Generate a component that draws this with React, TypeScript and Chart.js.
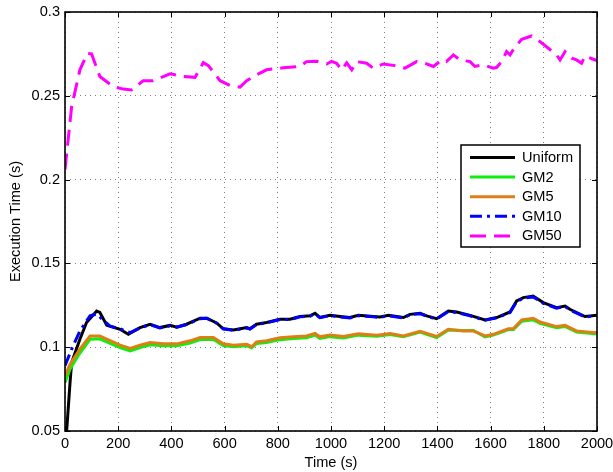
import React, { useEffect, useRef } from "react";
import { Chart, registerables } from "chart.js";

Chart.register(...registerables);

const seriesNames = ["Uniform", "GM2", "GM5", "GM10", "GM50"];

const uniformT = [0, 19, 25, 56, 81, 119, 131, 157, 207, 238, 282, 320, 357, 395, 420, 457, 508, 533, 570, 595, 633, 683, 695, 720, 758, 808, 846, 883, 921, 940, 958, 996, 1034, 1071, 1103, 1159, 1184, 1216, 1272, 1297, 1335, 1360, 1397, 1441, 1472, 1523, 1579, 1623, 1673, 1698, 1723, 1760, 1798, 1848, 1880, 1898, 1955, 2000];
const uniformV = [0.036, 0.079, 0.0909, 0.1048, 0.1147, 0.1216, 0.1208, 0.1131, 0.1107, 0.1077, 0.1117, 0.1137, 0.1117, 0.113, 0.112, 0.1137, 0.1173, 0.1173, 0.1145, 0.111, 0.1103, 0.1117, 0.111, 0.1137, 0.1147, 0.1167, 0.1167, 0.1183, 0.1187, 0.1202, 0.1178, 0.119, 0.1183, 0.1177, 0.119, 0.1183, 0.118, 0.119, 0.1177, 0.1196, 0.1202, 0.1187, 0.117, 0.1216, 0.121, 0.119, 0.1163, 0.1177, 0.121, 0.1276, 0.1296, 0.1305, 0.1266, 0.1236, 0.1246, 0.1226, 0.1183, 0.119];

const gm10T = [0, 25, 56, 94, 119, 145, 170, 207, 245, 282, 320, 357, 395, 420, 457, 508, 533, 570, 595, 633, 683, 695, 720, 758, 808, 846, 883, 921, 940, 958, 996, 1034, 1071, 1103, 1159, 1184, 1216, 1272, 1297, 1335, 1360, 1397, 1441, 1472, 1523, 1579, 1623, 1673, 1698, 1723, 1760, 1798, 1848, 1880, 1898, 1955, 2000];
const gm10V = [0.0889, 0.0988, 0.1097, 0.1187, 0.1198, 0.116, 0.1125, 0.111, 0.1087, 0.1115, 0.1135, 0.1115, 0.1128, 0.112, 0.1135, 0.117, 0.1172, 0.1143, 0.111, 0.11, 0.1115, 0.1108, 0.1135, 0.1145, 0.1165, 0.1165, 0.1181, 0.1185, 0.12, 0.1176, 0.1188, 0.1181, 0.1175, 0.1188, 0.1181, 0.1178, 0.1188, 0.1175, 0.1194, 0.12, 0.1185, 0.1168, 0.1213, 0.1207, 0.1187, 0.1161, 0.1175, 0.1207, 0.1272, 0.1292, 0.13, 0.1262, 0.1233, 0.1243, 0.1222, 0.118, 0.1188];

const gm5T = [0, 19, 56, 94, 131, 157, 207, 245, 282, 320, 370, 420, 470, 508, 558, 595, 633, 683, 702, 720, 758, 808, 858, 908, 940, 958, 996, 1046, 1103, 1172, 1222, 1272, 1335, 1397, 1441, 1497, 1535, 1579, 1610, 1667, 1686, 1717, 1760, 1786, 1848, 1880, 1923, 1992, 2000];
const gm5V = [0.0829, 0.0899, 0.0988, 0.1067, 0.1067, 0.1048, 0.1012, 0.0992, 0.1012, 0.1028, 0.102, 0.102, 0.1038, 0.1058, 0.1058, 0.102, 0.1012, 0.1017, 0.1003, 0.1032, 0.1038, 0.1056, 0.1063, 0.1067, 0.1083, 0.1062, 0.1073, 0.1064, 0.108, 0.1072, 0.1081, 0.1067, 0.1095, 0.1064, 0.1107, 0.1097, 0.1097, 0.1067, 0.1077, 0.111, 0.1112, 0.1163, 0.1173, 0.115, 0.1123, 0.113, 0.1097, 0.1087, 0.1087];

const gm2T = [0, 19, 56, 94, 131, 157, 207, 245, 282, 320, 370, 420, 470, 508, 558, 595, 633, 683, 702, 720, 758, 808, 858, 908, 940, 958, 996, 1046, 1103, 1172, 1222, 1272, 1335, 1397, 1441, 1497, 1535, 1579, 1610, 1667, 1686, 1717, 1760, 1786, 1848, 1880, 1923, 1992, 2000];
const gm2V = [0.079, 0.087, 0.0965, 0.1047, 0.105, 0.1032, 0.0997, 0.0978, 0.0998, 0.1014, 0.1008, 0.1008, 0.1025, 0.1046, 0.1046, 0.101, 0.1003, 0.1008, 0.0996, 0.1022, 0.1028, 0.1045, 0.1052, 0.1056, 0.1072, 0.1052, 0.1063, 0.1055, 0.1072, 0.1066, 0.1076, 0.1062, 0.109, 0.1058, 0.1103, 0.1099, 0.11, 0.1062, 0.1072, 0.1105, 0.1105, 0.1155, 0.1163, 0.1142, 0.1116, 0.1124, 0.109, 0.108, 0.108];

const gm50T = [0, 25, 56, 84, 100, 131, 181, 219, 250, 294, 331, 395, 445, 489, 520, 539, 583, 620, 658, 683, 720, 758, 783, 820, 883, 908, 946, 984, 1002, 1021, 1040, 1059, 1078, 1096, 1134, 1159, 1197, 1241, 1278, 1322, 1353, 1385, 1416, 1434, 1460, 1485, 1523, 1541, 1573, 1610, 1623, 1642, 1660, 1673, 1692, 1717, 1754, 1786, 1817, 1848, 1861, 1880, 1905, 1923, 1942, 1955, 1986, 2000];
const gm50V = [0.206, 0.2436, 0.2655, 0.2754, 0.275, 0.2615, 0.2555, 0.254, 0.2535, 0.259, 0.259, 0.2631, 0.2615, 0.261, 0.2698, 0.268, 0.259, 0.2562, 0.2552, 0.259, 0.2625, 0.2655, 0.266, 0.2667, 0.2675, 0.2704, 0.2706, 0.269, 0.2705, 0.2694, 0.2655, 0.2697, 0.2655, 0.2704, 0.2694, 0.2665, 0.269, 0.268, 0.2665, 0.2704, 0.2694, 0.2675, 0.2714, 0.2704, 0.2744, 0.2714, 0.2704, 0.2675, 0.2685, 0.2665, 0.267, 0.2704, 0.2764, 0.2744, 0.2793, 0.2837, 0.2857, 0.2823, 0.2784, 0.2744, 0.2714, 0.2764, 0.2724, 0.2714, 0.2694, 0.2738, 0.2718, 0.271];

const xTicks = [0, 200, 400, 600, 800, 1000, 1200, 1400, 1600, 1800, 2000];
const yTicks = [0.05, 0.1, 0.15, 0.2, 0.25, 0.3];

const FONT = "'Liberation Sans', Arial, Helvetica, sans-serif";

const pts = (t: number[], v: number[]) => t.map((x, i) => ({ x, y: v[i] }));

const styles = [
  { color: "#000000", dash: [] as number[], order: 5 },
  { color: "#10ee10", dash: [] as number[], order: 4 },
  { color: "#de7f16", dash: [] as number[], order: 3 },
  { color: "#0000ff", dash: [12, 5, 3, 5], order: 2 },
  { color: "#ff00ff", dash: [16, 8], order: 1 },
];

const boxPlugin = {
  id: "matlabBox",
  afterDatasetsDraw(chart: any) {
    const { ctx, chartArea: a, scales } = chart;
    ctx.save();
    ctx.strokeStyle = "#000";
    ctx.lineWidth = 1;
    const tl = 5;
    ctx.beginPath();
    xTicks.forEach((v) => {
      const x = Math.round(scales.x.getPixelForValue(v)) + 0.5;
      ctx.moveTo(x, a.bottom);
      ctx.lineTo(x, a.bottom - tl);
      ctx.moveTo(x, a.top);
      ctx.lineTo(x, a.top + tl);
    });
    yTicks.forEach((v) => {
      const y = Math.round(scales.y.getPixelForValue(v)) + 0.5;
      ctx.moveTo(a.left, y);
      ctx.lineTo(a.left + tl, y);
      ctx.moveTo(a.right, y);
      ctx.lineTo(a.right - tl, y);
    });
    ctx.stroke();
    ctx.lineWidth = 1.6;
    ctx.strokeRect(a.left, a.top, a.right - a.left, a.bottom - a.top);

    // legend
    const w = 119;
    const h = 102;
    const lx = a.right - 136;
    const ly = a.top + 133;
    ctx.fillStyle = "#fff";
    ctx.fillRect(lx, ly, w, h);
    ctx.lineWidth = 1.5;
    ctx.strokeStyle = "#000";
    ctx.strokeRect(lx, ly, w, h);
    ctx.font = `14.6px ${FONT}`;
    ctx.textBaseline = "middle";
    ctx.textAlign = "left";
    seriesNames.forEach((name, i) => {
      const cy = ly + 12.5 + i * 19.6;
      ctx.beginPath();
      ctx.setLineDash(styles[i].dash);
      ctx.strokeStyle = styles[i].color;
      ctx.lineWidth = 3;
      ctx.moveTo(lx + 9, cy);
      ctx.lineTo(lx + 54, cy);
      ctx.stroke();
      ctx.setLineDash([]);
      ctx.fillStyle = "#000";
      ctx.fillText(name, lx + 61, cy + 0.5);
    });
    ctx.restore();
  },
};

export default function App() {
  const ref = useRef<HTMLCanvasElement>(null);
  useEffect(() => {
    if (!ref.current) return;
    const data = [
      pts(uniformT, uniformV),
      pts(gm2T, gm2V),
      pts(gm5T, gm5V),
      pts(gm10T, gm10V),
      pts(gm50T, gm50V),
    ];
    const chart = new Chart(ref.current, {
      type: "line",
      data: {
        datasets: seriesNames.map((name, i) => ({
          label: name,
          data: data[i],
          borderColor: styles[i].color,
          backgroundColor: styles[i].color,
          borderWidth: 3,
          borderDash: styles[i].dash,
          pointRadius: 0,
          tension: 0,
          fill: false,
          order: styles[i].order,
          clip: 0,
        })),
      },
      options: {
        animation: false,
        responsive: false,
        layout: { padding: { top: 12, right: 16, left: 0, bottom: 0 } },
        plugins: { legend: { display: false }, tooltip: { enabled: false } },
        scales: {
          x: {
            type: "linear",
            min: 0,
            max: 2000,
            afterBuildTicks: (s: any) => {
              s.ticks = xTicks.map((v) => ({ value: v }));
            },
            afterFit: (s: any) => {
              s.height = 41;
              s.paddingLeft = 0;
              s.paddingRight = 0;
            },
            ticks: {
              color: "#000",
              font: { family: FONT, size: 14.6 },
              padding: 4,
              maxRotation: 0,
              autoSkip: false,
              callback: (v: any) => String(v),
            },
            grid: { color: "rgba(0,0,0,0.5)", lineWidth: 1, drawTicks: false },
            border: { display: false, dash: [1, 4] },
            title: {
              display: true,
              text: "Time (s)",
              color: "#000",
              font: { family: FONT, size: 14.6 },
              padding: { top: 0, bottom: 0 },
            },
          },
          y: {
            type: "linear",
            min: 0.05,
            max: 0.3,
            afterBuildTicks: (s: any) => {
              s.ticks = yTicks.map((v) => ({ value: v }));
            },
            afterFit: (s: any) => {
              s.width = 65;
              s.paddingTop = 0;
              s.paddingBottom = 0;
            },
            ticks: {
              color: "#000",
              font: { family: FONT, size: 14.6 },
              padding: 5,
              autoSkip: false,
              callback: (v: any) => String(Math.round(v * 100) / 100),
            },
            grid: { color: "rgba(0,0,0,0.5)", lineWidth: 1, drawTicks: false },
            border: { display: false, dash: [1, 4] },
            title: {
              display: true,
              text: "Execution Time (s)",
              color: "#000",
              font: { family: FONT, size: 14.6 },
              padding: { top: 7, bottom: 0 },
            },
          },
        },
      },
      plugins: [boxPlugin],
    });
    return () => chart.destroy();
  }, []);
  return (
    <div style={{ position: "fixed", left: 0, top: 0, width: 613, height: 472, background: "#fff" }}>
      <canvas ref={ref} width={613} height={472} style={{ display: "block" }} />
    </div>
  );
}
